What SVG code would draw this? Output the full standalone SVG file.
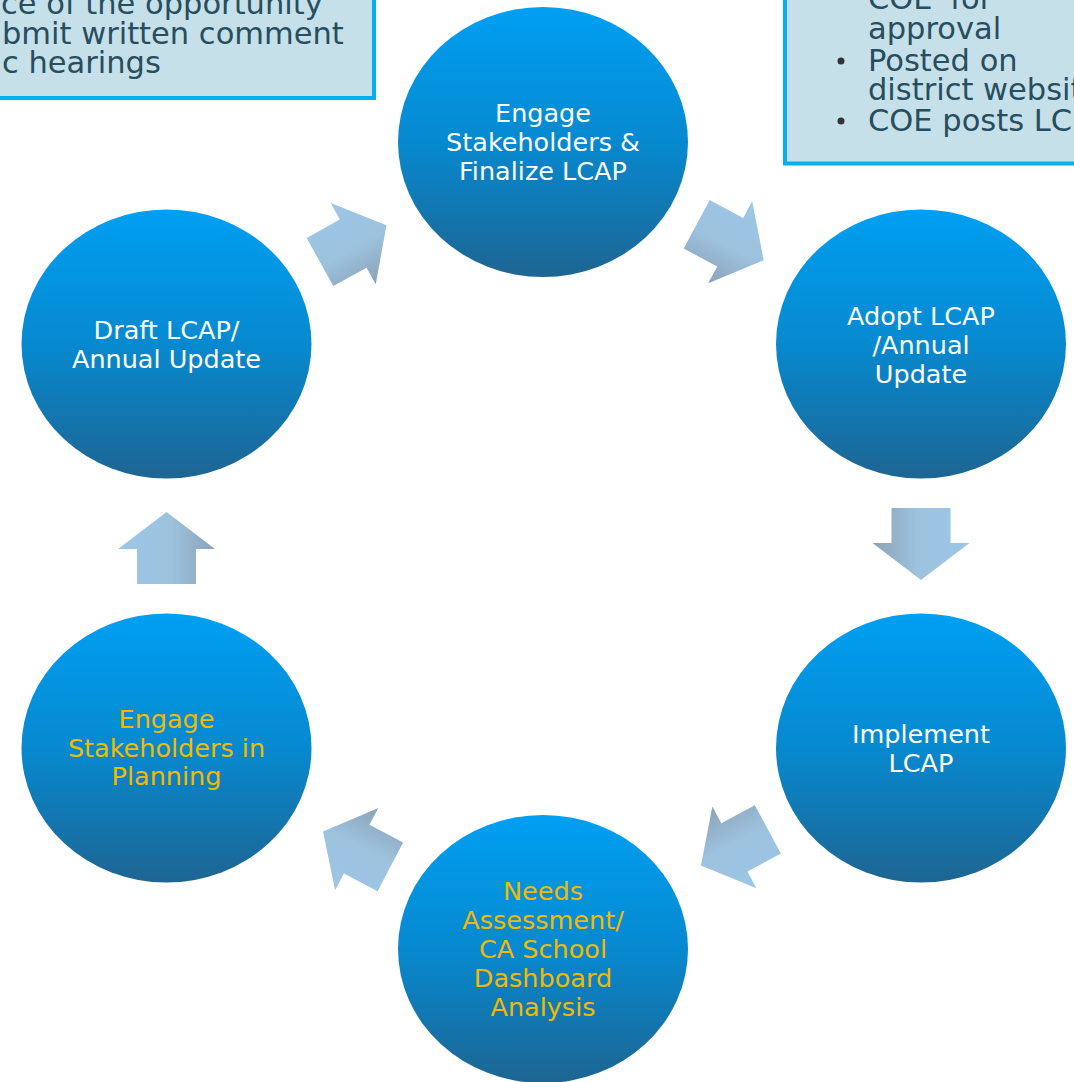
<svg xmlns="http://www.w3.org/2000/svg" width="1074" height="1082" viewBox="0 0 1074 1082">
<style>
.box{fill:#c6e0ea;stroke:#00b0f0;stroke-width:4}
.bt{font-family:"DejaVu Sans","Liberation Sans",sans-serif;font-size:30.5px;fill:#274e5e}
.node{fill:url(#cg)}
.ct{font-family:"DejaVu Sans","Liberation Sans",sans-serif;font-size:25.5px;text-anchor:middle;fill:#ffffff}
.cy{fill:#f2b900}
.arr{fill:url(#ag)}
</style>
<defs>
<linearGradient id="cg" x1="0" y1="0" x2="0" y2="1">
<stop offset="0" stop-color="#009ff2"/>
<stop offset="0.5" stop-color="#0789cf"/>
<stop offset="1" stop-color="#1e6592"/>
</linearGradient>
<linearGradient id="ag" x1="0" y1="0" x2="0" y2="1">
<stop offset="0" stop-color="#9cc6e6"/>
<stop offset="0.55" stop-color="#9dc2de"/>
<stop offset="1" stop-color="#8aa2b7"/>
</linearGradient>
<polygon id="sa" points="-36,-29.5 -1,-29.5 -1,-48.5 36,0 -1,48.5 -1,29.5 -36,29.5"/>
<polygon id="da" points="-38,-27.5 0,-27.5 0,-46.5 38,0 0,46.5 0,27.5 -38,27.5"/>
</defs>
<rect width="1074" height="1082" fill="#ffffff"/>

<g id="note-left">
<rect class="box" x="-10" y="-10" width="384" height="108"/>
<text class="bt" x="1" y="14">ce of the opportunity</text>
<text class="bt" x="2" y="44">bmit written comment</text>
<text class="bt" x="2" y="73">c hearings</text>
</g>

<g id="note-right">
<rect class="box" x="785" y="-10" width="300" height="173.5"/>
<text class="bt" x="868" y="9" style="word-spacing:8px">COE for</text>
<text class="bt" x="868" y="39">approval</text>
<circle cx="841" cy="61" r="3.5" fill="#333333"/>
<text class="bt" x="868" y="71">Posted on</text>
<text class="bt" x="868" y="100">district websit</text>
<circle cx="841" cy="121" r="3.5" fill="#333333"/>
<text class="bt" x="868" y="131">COE posts LC</text>
</g>

<g id="connectors">
<use href="#da" class="arr" transform="translate(353.2,243.6) rotate(-29)"/>
<use href="#da" class="arr" transform="translate(730.2,242.2) rotate(28.2)"/>
<use href="#sa" class="arr" transform="translate(921,544) rotate(90)"/>
<use href="#da" class="arr" transform="translate(734.4,847.4) rotate(151.7)"/>
<use href="#da" class="arr" transform="translate(356.7,849.2) rotate(-152.3)"/>
<use href="#sa" class="arr" transform="translate(166.5,548) rotate(-90)"/>
</g>

<g id="n-engage-finalize">
<ellipse class="node" cx="543" cy="142" rx="145" ry="135"/>
<text class="ct"><tspan x="543" y="122">Engage</tspan><tspan x="543" y="151">Stakeholders &amp;</tspan><tspan x="543" y="180">Finalize LCAP</tspan></text>
</g>

<g id="n-adopt">
<ellipse class="node" cx="921" cy="344" rx="145" ry="134.5"/>
<text class="ct"><tspan x="921" y="325">Adopt LCAP</tspan><tspan x="921" y="354">/Annual</tspan><tspan x="921" y="383">Update</tspan></text>
</g>

<g id="n-implement">
<ellipse class="node" cx="921" cy="748" rx="145" ry="134.5"/>
<text class="ct"><tspan x="921" y="743">Implement</tspan><tspan x="921" y="772">LCAP</tspan></text>
</g>

<g id="n-needs">
<ellipse class="node" cx="543" cy="949" rx="145" ry="134"/>
<text class="ct cy"><tspan x="543" y="900">Needs</tspan><tspan x="543" y="929">Assessment/</tspan><tspan x="543" y="958">CA School</tspan><tspan x="543" y="987">Dashboard</tspan><tspan x="543" y="1016">Analysis</tspan></text>
</g>

<g id="n-engage-planning">
<ellipse class="node" cx="166.5" cy="748" rx="145" ry="134.5"/>
<text class="ct cy"><tspan x="166.5" y="728">Engage</tspan><tspan x="166.5" y="757">Stakeholders in</tspan><tspan x="166.5" y="785">Planning</tspan></text>
</g>

<g id="n-draft">
<ellipse class="node" cx="166.5" cy="344" rx="145" ry="134.5"/>
<text class="ct"><tspan x="166.5" y="339">Draft LCAP/</tspan><tspan x="166.5" y="368">Annual Update</tspan></text>
</g>
</svg>
